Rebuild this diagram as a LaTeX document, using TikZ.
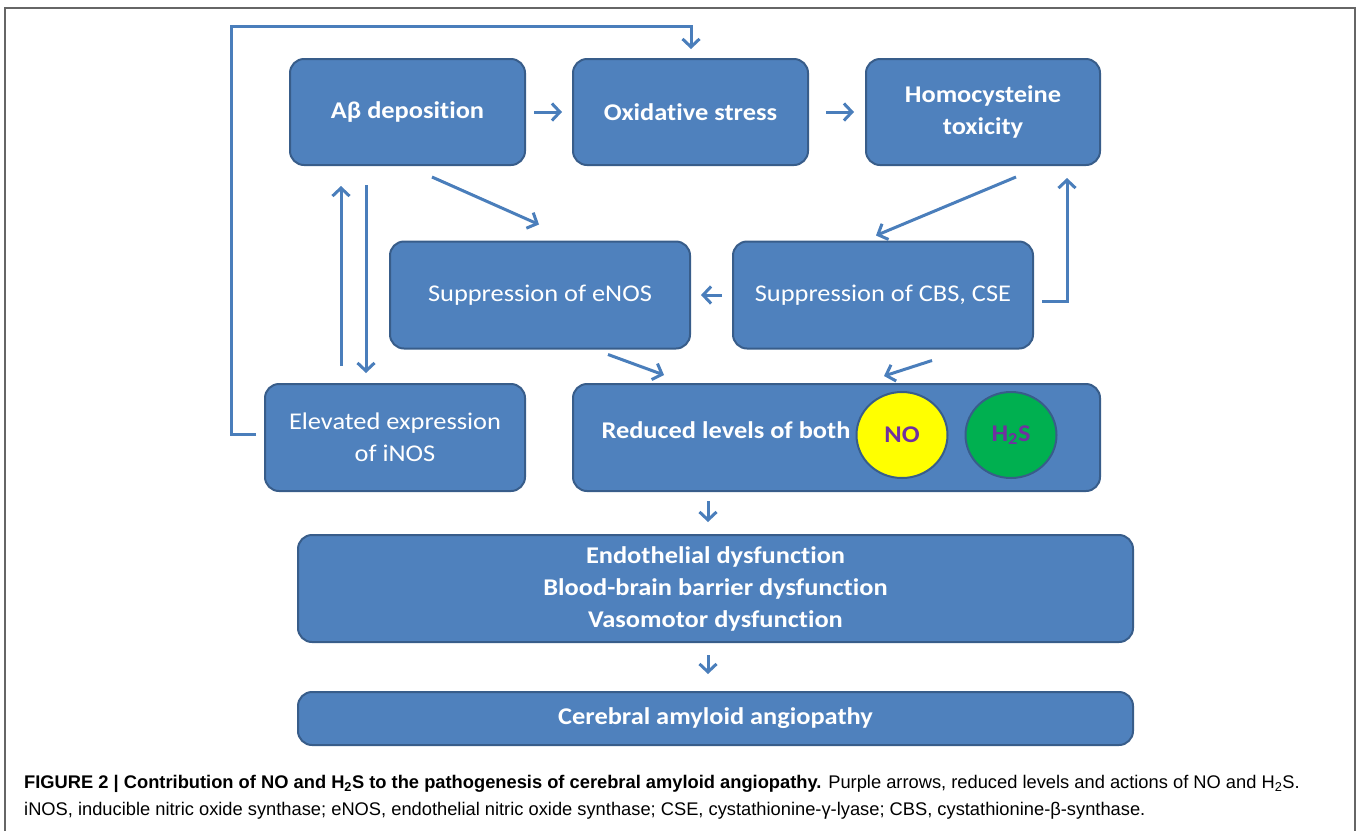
\documentclass[tikz,border=0pt]{standalone}
\usepackage{fontspec}
\setmainfont{Carlito}[FakeStretch=1.1, Ligatures=NoCommon]
\newfontfamily\capfont{Liberation Sans}
\usetikzlibrary{arrows.meta,shapes.geometric,calc,positioning}

\definecolor{boxblue}{HTML}{4F81BD}
\definecolor{boxedge}{HTML}{385D8A}
\definecolor{arrowblue}{HTML}{4A7EBB}
\definecolor{molpurple}{HTML}{7030A0}
\definecolor{molgreen}{HTML}{00B050}
\definecolor{molyellow}{HTML}{FFFF00}

\tikzset{
	block/.style = {rectangle, draw=boxedge, fill=boxblue, line width=2pt,
		rounded corners=14pt, text=white, align=center, inner sep=0pt,
		font=\fontsize{24}{32}\selectfont},
	bblock/.style = {block, font=\fontsize{24}{32}\selectfont\bfseries},
	line/.style = {draw=arrowblue, line width=3pt, -{Straight Barb[length=8pt,width=17pt]}},
	molecule/.style = {ellipse, draw=boxedge, line width=2pt, inner sep=0pt,
		minimum width=91pt, minimum height=86pt, text=molpurple,
		font=\fontsize{24}{26}\selectfont\bfseries},
	caption/.style = {anchor=west, inner sep=0pt, font=\capfont\fontsize{18.3}{20}\selectfont}
}

\begin{document}
\begin{tikzpicture}[x=1pt, y=-1pt]
	\useasboundingbox (0,0) rectangle (1357,831);
	% frame
	\draw [gray!80!black, line width=1.5pt] (5,831) -- (5,8) -- (1355,8) -- (1355,831);
	
	% top row
	\node [bblock, minimum width=235pt, minimum height=106pt] (ab) at (407.5,112) {Aβ deposition};
	\node [bblock, minimum width=235pt, minimum height=106pt] (ox) at (690.5,112) {Oxidative stress};
	\node [bblock, minimum width=234pt, minimum height=106pt] (hc) at (983,112) {Homocysteine\\toxicity};
	
	% middle row
	\node [block, minimum width=300pt, minimum height=107pt] (enos) at (540,295) {Suppression of eNOS};
	\node [block, minimum width=300pt, minimum height=107pt] (cbs) at (883,295) {Suppression of CBS, CSE};
	
	% lower row
	\node [block, minimum width=260pt, minimum height=107pt] (elev) at (395,437.5) {Elevated expression\\of iNOS};
	\node [bblock, minimum width=527pt, minimum height=107pt] (red) at (836.5,437.5) {};
	\node [text=white, font=\fontsize{24}{32}\selectfont\bfseries, inner sep=0pt] (redtxt) at (726,430) {Reduced levels of both};
	\node [molecule, fill=molyellow] (no) at (902,435) {NO};
	\node [molecule, fill=molgreen] (hs) at (1011,435) {H\textsubscript{2}S};
	
	% outcomes
	\node [bblock, minimum width=835pt, minimum height=107pt] (endo) at (715.5,588.5) {Endothelial dysfunction\\Blood-brain barrier dysfunction\\Vasomotor dysfunction};
	\node [bblock, minimum width=835pt, minimum height=53pt] (caa) at (715.5,718.5) {Cerebral amyloid angiopathy};
	
	% arrows
	\path [line] ([xshift=8]ab.east) -- ([xshift=-10]ox.west);
	\path [line] ([xshift=17]ox.east) -- ([xshift=-11]hc.west);
	\path [line] ($(hc.south)+(33,11)$) -- ($(cbs.north)+(-7,-5)$);
	\path [line] ($(cbs.east)+(8,6)$) -| ($(hc.south)+(84,12)$);
	\path [line] ([xshift=-10]cbs.west) -- ([xshift=10]enos.east);
	\path [line] ($(ab.south)+(24.5,11)$) -- ($(enos.north)+(-1,-16)$);
	\path [line] ($(elev.north)+(-54,-17)$) -- ($(ab.south)+(-66.5,20)$);
	\path [line] ($(ab.south)+(-41.5,19)$) -- ($(elev.north)+(-29,-10)$);
	\path [line] ($(enos.south)+(68,5)$) -- ($(red.north)+(-172.5,-8)$);
	\path [line] ($(cbs.south)+(49,11)$) -- ($(red.north)+(47.5,-7)$);
	\path [line] ($(red.south)+(-128.5,9)$) -- ($(endo.north)+(-7.5,-12)$);
	\path [line] ($(endo.south)+(-7.5,12)$) -- ($(caa.north)+(-7.5,-17)$);
	
	% feedback from iNOS
	\path [line] ($(elev.west)+(-8,-3.5)$) -- ++(-25,0) |- ($(ox.north)+(0.5,-32)$) -- ($(ox.north)+(0.5,-9)$);
	
	% caption
	\node [caption] (cap1) at (24,784) {\textbf{FIGURE 2 | Contribution of NO and H\textsubscript{2}S to the pathogenesis of cerebral amyloid angiopathy.} Purple arrows, reduced levels and actions of NO and H\textsubscript{2}S.};
	\node [caption] (cap2) at (24,811) {iNOS, inducible nitric oxide synthase; eNOS, endothelial nitric oxide synthase; CSE, cystathionine-γ-lyase; CBS, cystathionine-β-synthase.};
\end{tikzpicture}
\end{document}
